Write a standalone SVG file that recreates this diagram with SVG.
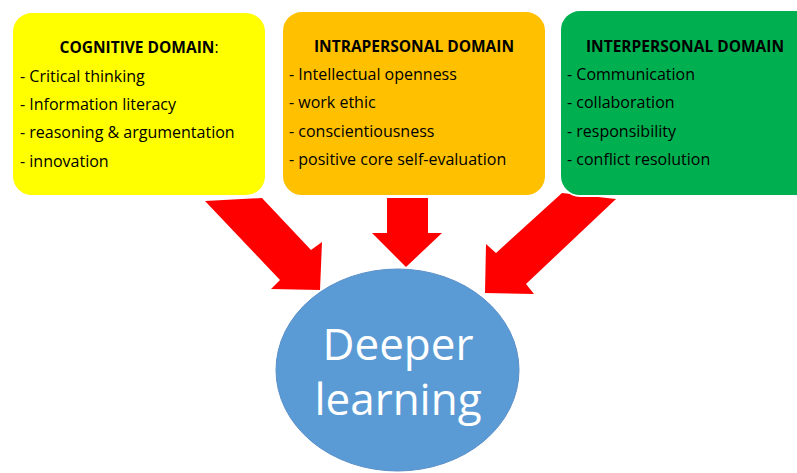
<svg xmlns="http://www.w3.org/2000/svg" width="797" height="473" viewBox="0 0 797 473">
<style>
.box{stroke:#fff;stroke-width:2}
.arrow{fill:#FF0000}
.h{font-family:"Open Sans","Liberation Sans",sans-serif;font-size:15.5px;font-weight:bold;fill:#000;text-anchor:middle}
.t{font-family:"Open Sans","Liberation Sans",sans-serif;font-size:16px;fill:#000}
.big{font-family:"Open Sans","Liberation Sans",sans-serif;font-size:44px;fill:#fff;text-anchor:middle}
</style>
<rect width="797" height="473" fill="#fff"/>
<g id="connectors">
<polygon class="arrow" points="205,201 262,198 311,250 322,242 320,290 271,289 280,280"/>
<polygon class="arrow" points="387,198 428,198 428,233 442,233 406,267 372,233 387,233"/>
<polygon class="arrow" points="562,193 616,199 526,284 534,294 485,293 486,244 496,253"/>
</g>
<g id="cognitive">
<rect class="box" x="12" y="12" width="254" height="184" rx="20" fill="#FFFF00"/>
<text class="h" x="139" y="53">COGNITIVE DOMAIN<tspan font-weight="normal">:</tspan></text>
<text class="t" x="20" y="82">- Critical thinking</text>
<text class="t" x="20" y="110">- Information literacy</text>
<text class="t" x="20" y="138">- reasoning &amp; argumentation</text>
<text class="t" x="20" y="167">- innovation</text>
</g>
<g id="intrapersonal">
<rect class="box" x="282" y="11" width="264" height="185" rx="20" fill="#FFC000"/>
<text class="h" x="414" y="52">INTRAPERSONAL DOMAIN</text>
<text class="t" x="289" y="80">- Intellectual openness</text>
<text class="t" x="289" y="108">- work ethic</text>
<text class="t" x="289" y="137">- conscientiousness</text>
<text class="t" x="289" y="165">- positive core self-evaluation</text>
</g>
<g id="interpersonal">
<rect class="box" x="560" y="10" width="260" height="186" rx="20" fill="#00B050"/>
<text class="h" x="685" y="52">INTERPERSONAL DOMAIN</text>
<text class="t" x="567" y="80">- Communication</text>
<text class="t" x="567" y="108">- collaboration</text>
<text class="t" x="567" y="137">- responsibility</text>
<text class="t" x="567" y="165">- conflict resolution</text>
</g>
<g id="deeper-learning">
<ellipse cx="397.5" cy="370" rx="121.5" ry="101" fill="#5B9BD5" stroke="#5A8FC8" stroke-width="1"/>
<text class="big" x="398" y="360">Deeper</text>
<text class="big" x="398" y="415">learning</text>
</g>
</svg>
